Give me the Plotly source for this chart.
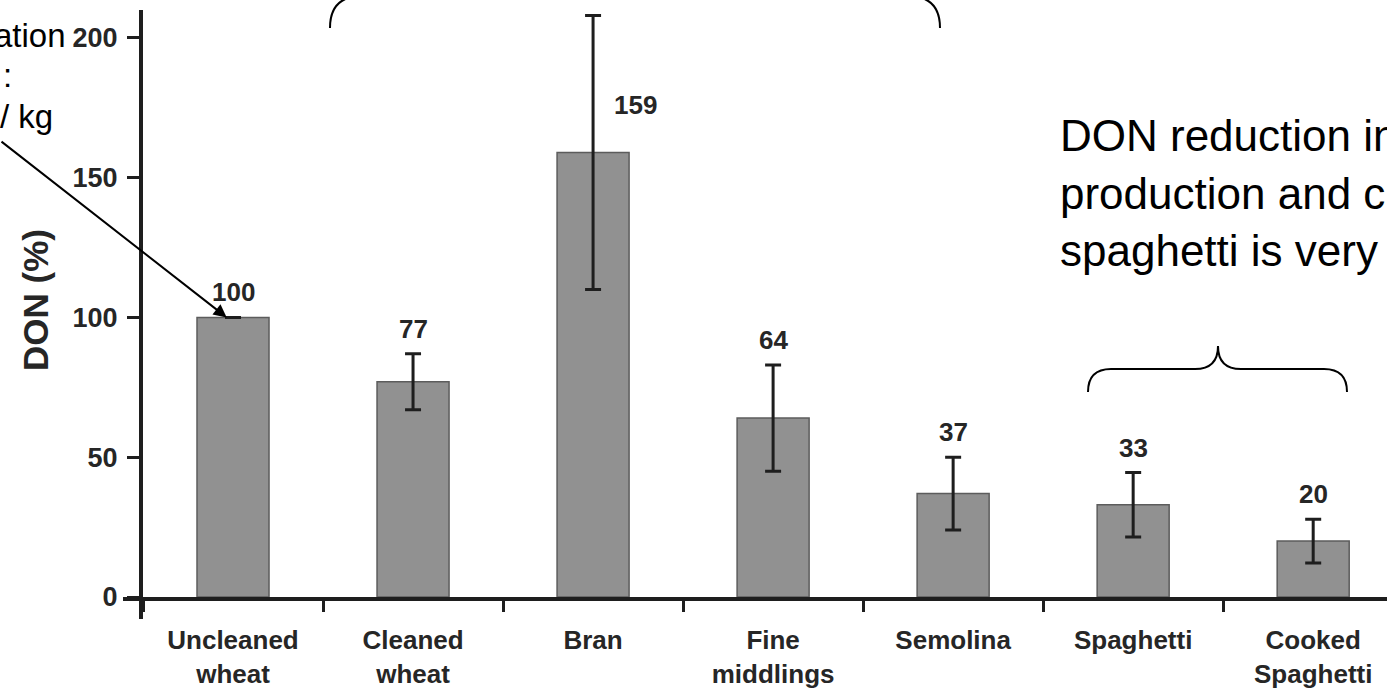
import plotly.graph_objects as go

# ---------------- data ----------------
categories = ["Uncleaned<br>wheat", "Cleaned<br>wheat", "Bran", "Fine<br>middlings",
              "Semolina", "Spaghetti", "Cooked<br>Spaghetti"]
don_pct = [100, 77, 159, 64, 37, 33, 20]
don_err = [0, 10, 49, 19, 13, 11.5, 7.8]
value_labels = ["100", "77", "159", "64", "37", "33", "20"]
y_ticks = [0, 50, 100, 150, 200]
y_title = "DON (%)"
left_text = ["ation", ":", "/ kg"]
right_text = ["DON reduction in", "production and c", "spaghetti is very"]

# ---------------- geometry (page pixels) ----------------
W_FIG, H_FIG = 1387, 692
L, T, B = 143, 10, 597   # plot area in figure pixels
PW, PH = W_FIG - L, B - T


def px(x):
    """page x pixel -> paper fraction"""
    return (x - L) / PW


def py(y):
    """page y pixel -> paper fraction"""
    return (B - y) / PH


BAR_FILL = "#919191"
BAR_LINE = "#5c5c5c"
INK = "#1e1e1e"
LABEL = "#262626"

fig = go.Figure()
fig.add_trace(go.Bar(
    x=categories, y=don_pct, width=0.4,
    marker=dict(color=BAR_FILL, line=dict(color=BAR_LINE, width=1.5)),
    error_y=dict(type="data", array=don_err, visible=True,
                 color=INK, thickness=3, width=8),
    showlegend=False, hoverinfo="skip",
))

annotations = []
# value labels above error bars
for i, (v, e, t) in enumerate(zip(don_pct, don_err, value_labels)):
    if categories[i] == "Bran":
        annotations.append(dict(x=i + 0.235, y=v + 17, xref="x", yref="y", text=t,
                                showarrow=False,
                                font=dict(size=26, color=LABEL, family="Arial",
                                          weight="bold")))
    else:
        annotations.append(dict(x=i, y=v + e, xref="x", yref="y", text=t,
                                showarrow=False, yanchor="middle", yshift=25,
                                font=dict(size=26, color=LABEL, family="Arial",
                                          weight="bold")))

# y-axis title
annotations.append(dict(x=px(35), y=py(300), xref="paper", yref="paper",
                        xanchor="center", yanchor="middle",
                        text=y_title, textangle=-90, showarrow=False,
                        font=dict(size=35, color=LABEL, family="Arial", weight="bold")))

# left (cropped) text
left_pos = [(68, 35, "right"), (1, 76, "left"), (-2, 116, "left")]
for (x0, y0, anc), t in zip(left_pos, left_text):
    annotations.append(dict(x=px(x0), y=py(y0), xref="paper", yref="paper", text=t,
                            showarrow=False, xanchor=anc, yanchor="middle",
                            font=dict(size=33, color="#000000", family="Arial")))

# right (cropped) text
for k, t in enumerate(right_text):
    annotations.append(dict(x=px(1058), y=py(136 + 57 * k), xref="paper", yref="paper",
                            text=t, showarrow=False, xanchor="left", yanchor="middle",
                            font=dict(size=44, color="#000000", family="Arial")))

# arrow pointing at uncleaned wheat bar
annotations.append(dict(x=-0.035, y=100, xref="x", yref="y", text="", showarrow=True,
                        ax=-240, ay=-177, axref="pixel", ayref="pixel",
                        arrowhead=2, arrowsize=1.3, arrowwidth=2, arrowcolor="#000000"))

shapes = []


def P(x, y):
    return f"{px(x):.5f},{py(y):.5f}"


# brace over spaghetti / cooked spaghetti
brace2 = (f"M {P(1088,392)} Q {P(1088,369)} {P(1111,369)} L {P(1195,369)} "
          f"Q {P(1218,369)} {P(1218,346)} Q {P(1218,369)} {P(1241,369)} "
          f"L {P(1324,369)} Q {P(1347,369)} {P(1347,392)}")
# brace at top (cropped)
brace1 = (f"M {P(330,28)} Q {P(330,-4)} {P(362,-4)} L {P(603,-4)} "
          f"Q {P(635,-4)} {P(635,-36)} Q {P(635,-4)} {P(667,-4)} "
          f"L {P(908,-4)} Q {P(940,-4)} {P(940,28)}")
for pth in (brace1, brace2):
    shapes.append(dict(type="path", path=pth, xref="paper", yref="paper",
                       line=dict(color="#000000", width=2)))

# y-axis line extension below zero, x-axis line extension left of the y axis
shapes.append(dict(type="line", xref="paper", yref="paper", x0=px(141), x1=px(141),
                   y0=py(597), y1=py(619), line=dict(color=INK, width=4)))
shapes.append(dict(type="line", xref="paper", yref="paper", x0=px(123), x1=px(143),
                   y0=py(599), y1=py(599), line=dict(color=INK, width=4)))

fig.update_layout(
    width=W_FIG, height=H_FIG,
    margin=dict(l=L, r=0, t=T, b=H_FIG - B, autoexpand=False),
    paper_bgcolor="white", plot_bgcolor="white",
    annotations=annotations, shapes=shapes,
    font=dict(family="Arial", color=LABEL),
)
fig.update_xaxes(
    type="category", range=[-0.5, 6.41], tickson="boundaries", automargin=False,
    showline=True, linecolor=INK, linewidth=4,
    ticks="outside", ticklen=11, tickwidth=3, tickcolor=INK,
    tickfont=dict(size=26, color=LABEL, family="Arial", weight="bold"),
    showgrid=False, zeroline=False, ticklabelstandoff=17,
)
fig.update_yaxes(
    range=[0, 210], tickvals=y_ticks, automargin=False,
    showline=True, linecolor=INK, linewidth=4,
    ticks="outside", ticklen=12, tickwidth=3, tickcolor=INK,
    tickfont=dict(size=27, color=LABEL, family="Arial", weight="bold"),
    showgrid=False, zeroline=False, ticklabelstandoff=4,
)

fig.write_html("out.html", config={"displayModeBar": False},
               post_script="document.body.style.margin='0';document.body.style.overflow='hidden';")
